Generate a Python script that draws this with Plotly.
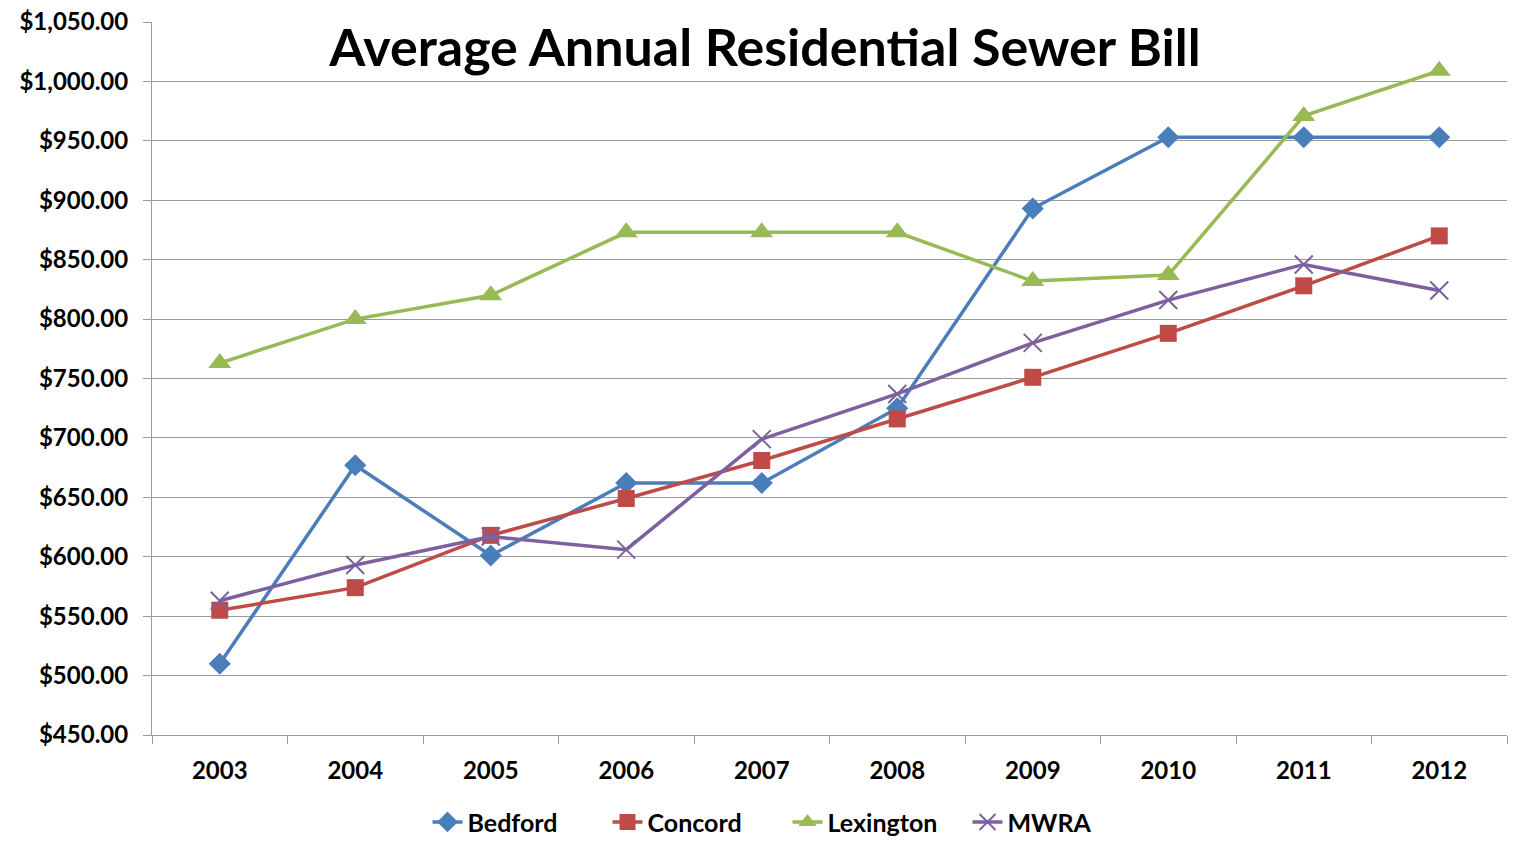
import plotly.graph_objects as go

years = ["2003", "2004", "2005", "2006", "2007", "2008", "2009", "2010", "2011", "2012"]
bedford = [510, 677, 601, 662, 662, 725, 893, 953, 953, 953]
concord = [555, 574, 618, 649, 681, 716, 751, 788, 828, 870]
lexington = [763, 800, 820, 873, 873, 873, 832, 837, 971, 1009]
mwra = [563, 593, 617, 606, 699, 737, 780, 816, 846, 824]

y_ticks = [450, 500, 550, 600, 650, 700, 750, 800, 850, 900, 950, 1000, 1050]

FONT = "Lato"

fig = go.Figure()
fig.add_trace(go.Scatter(x=years, y=bedford, name="Bedford", mode="lines+markers",
                         line=dict(color="#4A7EBB", width=3.5),
                         marker=dict(symbol="diamond", size=17, color="#4A7EBB")))
fig.add_trace(go.Scatter(x=years, y=concord, name="Concord", mode="lines+markers",
                         line=dict(color="#BE4B48", width=3.5),
                         marker=dict(symbol="square", size=17, color="#BE4B48")))
fig.add_trace(go.Scatter(x=years, y=lexington, name="Lexington", mode="lines+markers",
                         line=dict(color="#98B954", width=3.5),
                         marker=dict(symbol="triangle-up", size=20, color="#98B954")))
fig.add_trace(go.Scatter(x=years, y=mwra, name="MWRA", mode="lines+markers",
                         line=dict(color="#7D60A0", width=3.5),
                         marker=dict(symbol="x-thin", size=18, color="#7D60A0",
                                     line=dict(color="#7D60A0", width=2))))

fig.update_layout(
    width=1522, height=859,
    margin=dict(l=152, r=15, t=22, b=124, autoexpand=False),
    paper_bgcolor="white", plot_bgcolor="white",
    font=dict(family=FONT, size=20, color="black"),
    title=dict(text="<b>Average Annual Residential Sewer Bill</b>",
               x=765 / 1522, xanchor="center", y=1 - 48 / 859, yanchor="middle",
               font=dict(family=FONT, size=52, color="black")),
    legend=dict(orientation="h", x=0.469, xanchor="center", y=-0.09, yanchor="top",
                font=dict(family=FONT, size=25, color="black", weight="bold"),
                itemwidth=30, entrywidth=135, tracegroupgap=0),
    showlegend=True,
)
fig.update_xaxes(type="category", range=[-0.5, 9.5], showgrid=False, automargin=False,
                 showline=True, linecolor="#9A9A9A", linewidth=1,
                 ticks="outside", tickson="boundaries", ticklen=8, tickcolor="#9A9A9A",
                 ticklabelstandoff=14,
                 tickfont=dict(family=FONT, size=24, color="black", weight="bold"))
fig.update_yaxes(range=[450, 1050], tickvals=y_ticks, tickformat="$,.2f", automargin=False,
                 showgrid=True, gridcolor="#9A9A9A", gridwidth=1,
                 showline=True, linecolor="#9A9A9A", linewidth=1,
                 ticks="outside", ticklen=8, tickcolor="#9A9A9A",
                 ticklabelstandoff=10,
                 zeroline=False,
                 tickfont=dict(family=FONT, size=24, color="black", weight="bold"))

fig.write_html("out.html", config={"displayModeBar": False},
               post_script="document.body.style.margin='0';")
